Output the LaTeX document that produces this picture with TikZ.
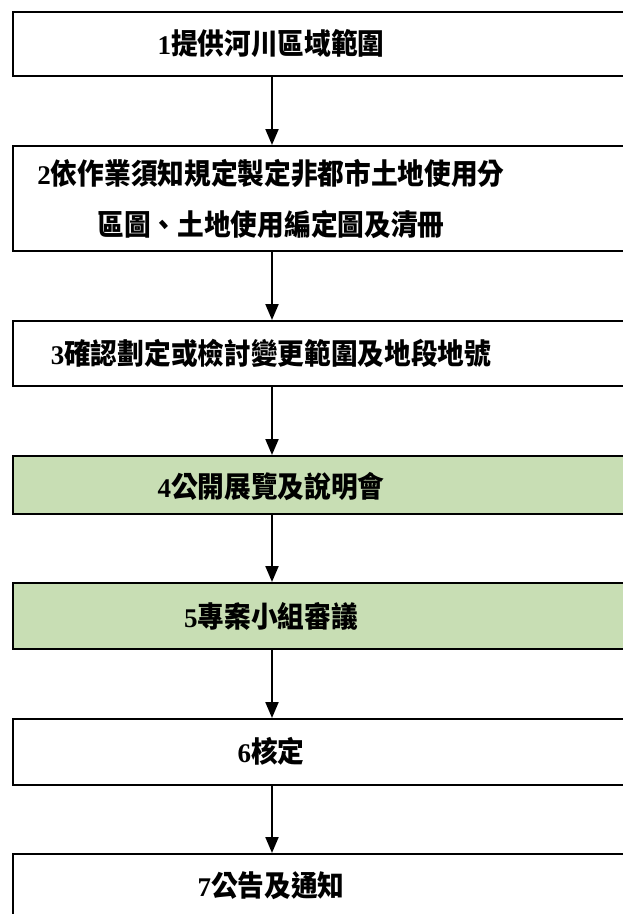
\documentclass[tikz,border=0pt]{standalone}
\usepackage{fontspec}
\setmainfont{Liberation Serif}
\newfontfamily\cjk{Noto Sans CJK TC}[FakeStretch=0.92]
\newcommand\cjtxt[1]{{\fontsize{29}{51}\selectfont\cjk #1}}
\usetikzlibrary{arrows.meta}
\definecolor{boxgreen}{HTML}{C8DEB4}
\tikzset{
 box/.style={draw=black, line width=2.2pt, fill=white, rectangle, inner sep=0pt, anchor=north west, minimum width=660pt},
 greenbox/.style={box, fill=boxgreen},
 lbl/.style={font=\fontsize{27}{51}\selectfont\bfseries, align=center, inner sep=0pt},
 arr/.style={line width=2pt, -{Triangle[length=16pt,width=13pt]}}
}
\begin{document}
\begin{tikzpicture}[x=1pt,y=-1pt]
\useasboundingbox (0,0) rectangle (623,914);
\clip (0,0) rectangle (623,914);
\fill[white] (0,0) rectangle (623,914);
\coordinate (ax) at (272,0);
\node[box, minimum height=64pt] (b1) at (12,11) {};
\node[box, minimum height=105pt] (b2) at (12,145) {};
\node[box, minimum height=65pt] (b3) at (12,320) {};
\node[greenbox, minimum height=58pt] (b4) at (12,455) {};
\node[greenbox, minimum height=66pt] (b5) at (12,582) {};
\node[box, minimum height=66pt] (b6) at (12,718) {};
\node[box, minimum height=70pt] (b7) at (12,853) {};
\node[lbl] (t1) at (271,43) {1\cjtxt{提供河川區域範圍}};
\node[lbl] (t2) at (271,199) {2\cjtxt{依作業須知規定製定非都市土地使用分}\\\cjtxt{區圖、土地使用編定圖及清冊}};
\node[lbl] (t3) at (271,353) {3\cjtxt{確認劃定或檢討變更範圍及地段地號}};
\node[lbl] (t4) at (271,487) {4\cjtxt{公開展覽及說明會}};
\node[lbl] (t5) at (271,616) {5\cjtxt{專案小組審議}};
\node[lbl] (t6) at (271,751) {6\cjtxt{核定}};
\node[lbl] (t7) at (271,886) {7\cjtxt{公告及通知}};
\draw[arr] (b1.south -| ax) -- (b2.north -| ax);
\draw[arr] (b2.south -| ax) -- (b3.north -| ax);
\draw[arr] (b3.south -| ax) -- (b4.north -| ax);
\draw[arr] (b4.south -| ax) -- (b5.north -| ax);
\draw[arr] (b5.south -| ax) -- (b6.north -| ax);
\draw[arr] (b6.south -| ax) -- (b7.north -| ax);
\end{tikzpicture}
\end{document}
